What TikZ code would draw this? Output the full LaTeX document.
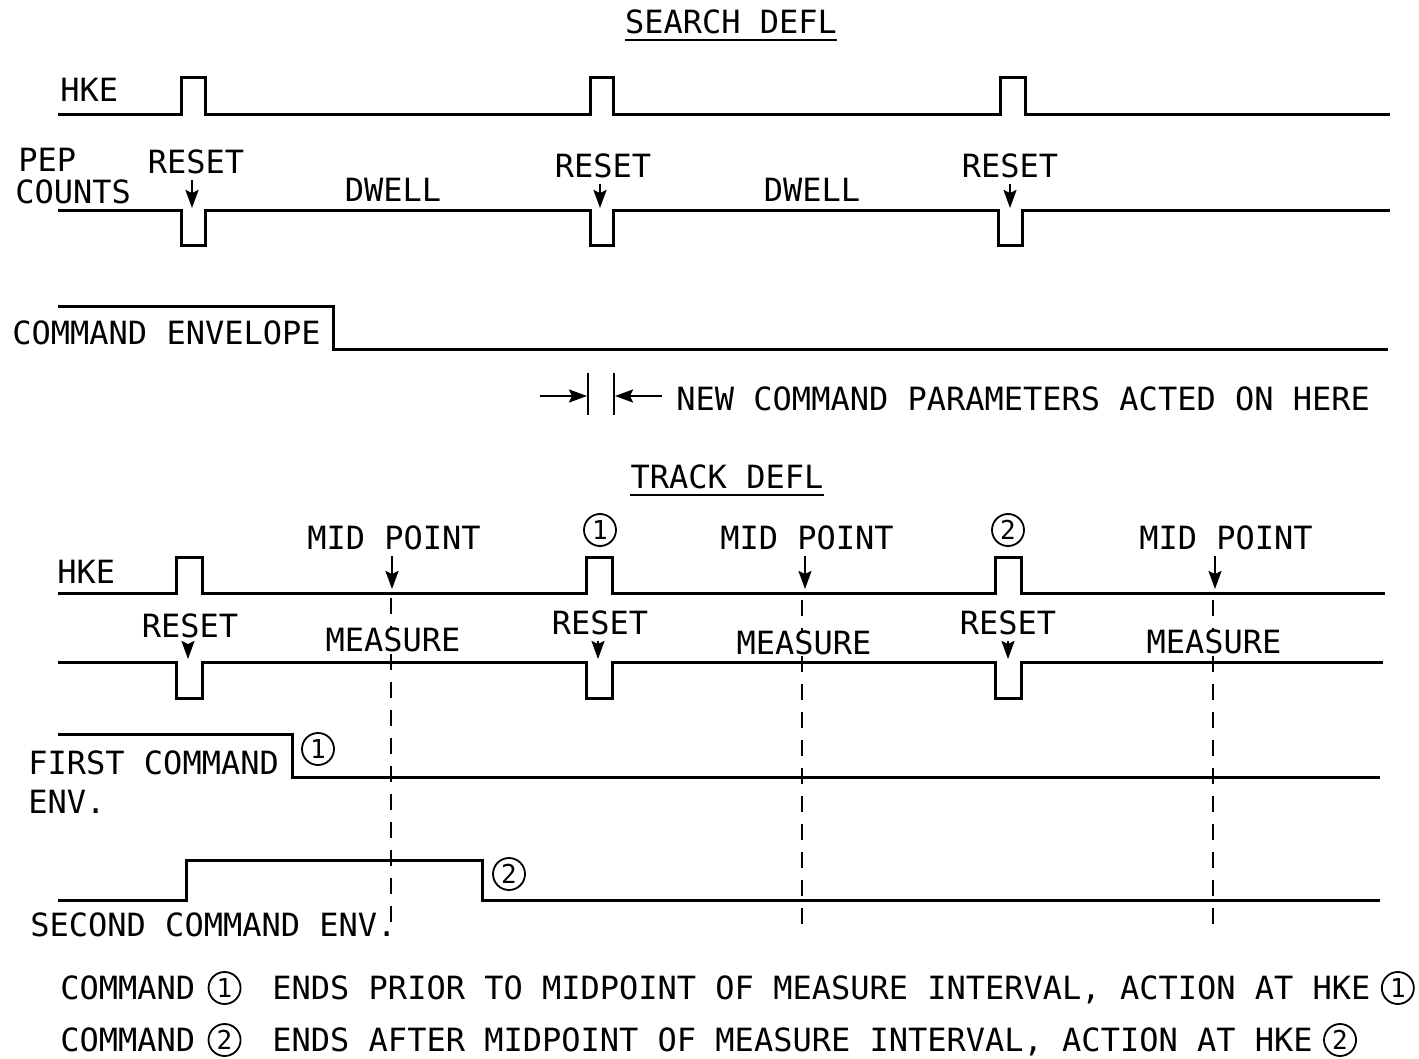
\documentclass[tikz,border=0pt]{standalone}
\usepackage{fontspec}
\setmainfont{DejaVu Sans Mono}
\usetikzlibrary{arrows.meta,positioning}

\begin{document}
\begin{tikzpicture}[x=0.5pt,y=-0.5pt,
	txt/.style={inner sep=0pt, font=\fontsize{16}{19}\selectfont, text height=11.7pt, text depth=0pt},
	wave/.style={line width=1.5pt},
	ptr/.style={line width=1pt, -{Stealth[length=9pt,width=6.5pt,inset=1.5pt]}},
	midline/.style={line width=0.8pt, dash pattern=on 8pt off 6pt},
	numcirc/.style={circle, draw, line width=0.9pt, minimum size=16pt, inner sep=0pt, font=\fontsize{13}{13}\selectfont}]
	\useasboundingbox (0,0) rectangle (1419,1059);

	% search deflection
	\node[txt] (search) at (731,22) {SEARCH DEFL};
	\draw[line width=0.8pt] ([yshift=-3pt]search.south west) -- ([yshift=-3pt]search.south east);

	\node[txt, anchor=west] (hkeS) at (60,90) {HKE};
	\draw[wave] (58,115) -- (181,115) -- (181,78) -- (205,78) -- (205,115) -- (590,115) -- (590,78) -- (613,78) -- (613,115)
		-- (1000,115) -- (1000,78) -- (1025,78) -- (1025,115) -- (1390,115);

	\node[txt, anchor=west] (pep) at (18,160) {PEP};
	\node[txt, anchor=west] (counts) at (15,192) {COUNTS};
	\draw[wave] (58,211) -- (181,211) -- (181,246) -- (205,246) -- (205,211) -- (590,211) -- (590,246) -- (613,246) -- (613,211)
		-- (998,211) -- (998,246) -- (1022,246) -- (1022,211) -- (1390,211);

	\node[txt] (rsA) at (196,162) {RESET};
	\node[txt] (rsB) at (603,166) {RESET};
	\node[txt] (rsC) at (1010,166) {RESET};
	\coordinate (pA) at (192,208);
	\coordinate (pB) at (600,208);
	\coordinate (pC) at (1010,208);
	\draw[ptr] ([yshift=-3pt]pA |- rsA.south) -- (pA);
	\draw[ptr] ([yshift=-3pt]pB |- rsB.south) -- (pB);
	\draw[ptr] ([yshift=-3pt]pC |- rsC.south) -- (pC);

	\node[txt] (dwellA) at (393,190) {DWELL};
	\node[txt] (dwellB) at (812,190) {DWELL};

	\node[txt, anchor=west] (cmdenv) at (12,333) {COMMAND ENVELOPE};
	\draw[wave] (58,307) -- (333,307) -- (333,349) -- (1388,349);

	\draw[line width=1pt] (588,373) -- (588,415);
	\draw[line width=1pt] (614,373) -- (614,415);
	\coordinate (barL) at (587,396);
	\coordinate (barR) at (615,396);
	\node[txt, anchor=west] (newcmd) at (676,399) {NEW COMMAND PARAMETERS ACTED ON HERE};
	\draw[ptr] (540,396) -- (barL);
	\draw[ptr] ([xshift=-7pt]newcmd.west |- barR) -- (barR);

	% track deflection
	\node[txt] (track) at (727,477) {TRACK DEFL};
	\draw[line width=0.8pt] ([yshift=-3pt]track.south west) -- ([yshift=-3pt]track.south east);

	\node[txt, anchor=west] (hkeT) at (57,572) {HKE};
	\draw[wave] (58,593) -- (176,593) -- (176,557) -- (202,557) -- (202,593) -- (586,593) -- (586,557) -- (612,557) -- (612,593)
		-- (995,593) -- (995,557) -- (1021,557) -- (1021,593) -- (1385,593);
	\draw[wave] (58,662) -- (176,662) -- (176,698) -- (202,698) -- (202,662) -- (586,662) -- (586,698) -- (612,698) -- (612,662)
		-- (995,662) -- (995,698) -- (1021,698) -- (1021,662) -- (1383,662);

	\node[numcirc] (hkeone) at (600,530) {1};
	\node[numcirc] (hketwo) at (1008,530) {2};

	\node[txt] (midA) at (394,538) {MID POINT};
	\node[txt] (midB) at (807,538) {MID POINT};
	\node[txt] (midC) at (1226,538) {MID POINT};
	\coordinate (mA) at (392,589);
	\coordinate (mB) at (805,589);
	\coordinate (mC) at (1215,589);
	\draw[ptr] ([yshift=-3pt]mA |- midA.south) -- (mA);
	\draw[ptr] ([yshift=-3pt]mB |- midB.south) -- (mB);
	\draw[ptr] ([yshift=-3pt]mC |- midC.south) -- (mC);

	\coordinate (endA) at (391,932);
	\coordinate (endB) at (802,925);
	\coordinate (endC) at (1213,925);
	\draw[midline] (391,598) -- (endA);
	\draw[midline] (802,600) -- (endB);
	\draw[midline] (1213,600) -- (endC);

	\node[txt, fill=white] (meaA) at (393,640) {MEASURE};
	\node[txt, fill=white] (meaB) at (804,643) {MEASURE};
	\node[txt, fill=white] (meaC) at (1214,642) {MEASURE};

	\node[txt] (rsD) at (190,626) {RESET};
	\node[txt] (rsE) at (600,623) {RESET};
	\node[txt] (rsF) at (1008,623) {RESET};
	\coordinate (pD) at (188,659);
	\coordinate (pE) at (598,659);
	\coordinate (pF) at (1008,659);
	\draw[ptr] ([yshift=-3pt]pD |- rsD.south) -- (pD);
	\draw[ptr] ([yshift=-3pt]pE |- rsE.south) -- (pE);
	\draw[ptr] ([yshift=-3pt]pF |- rsF.south) -- (pF);

	\node[txt, anchor=west] (first) at (28,763) {FIRST COMMAND};
	\node[txt, anchor=west] (firstenv) at (28,802) {ENV.};
	\draw[wave] (58,734) -- (292,734) -- (292,777) -- (1380,777);
	\node[numcirc] (endone) at (318,749) {1};

	\draw[wave] (58,900) -- (186,900) -- (186,860) -- (482,860) -- (482,900) -- (1380,900);
	\node[numcirc] (endtwo) at (509,874) {2};
	\node[txt, anchor=west] (second) at (30,925) {SECOND COMMAND ENV.};

	% notes
	\node[txt, anchor=west] (noteA) at (60,988) {COMMAND};
	\node[numcirc, right=6pt of noteA] (noteAone) {1};
	\node[txt, anchor=west] (noteAtext) at (272,988) {ENDS PRIOR TO MIDPOINT OF MEASURE INTERVAL, ACTION AT HKE};
	\node[numcirc, right=5pt of noteAtext] (noteAend) {1};

	\node[txt, anchor=west] (noteB) at (60,1040) {COMMAND};
	\node[numcirc, right=6pt of noteB] (noteBtwo) {2};
	\node[txt, anchor=west] (noteBtext) at (272,1040) {ENDS AFTER MIDPOINT OF MEASURE INTERVAL, ACTION AT HKE};
	\node[numcirc, right=5pt of noteBtext] (noteBend) {2};
\end{tikzpicture}
\end{document}
